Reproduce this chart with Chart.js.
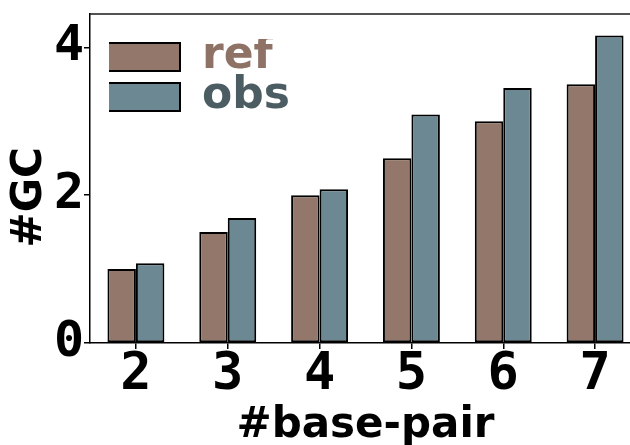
<!DOCTYPE html>
<html>
<head>
<meta charset="utf-8">
<script src="https://cdn.jsdelivr.net/npm/chart.js@4/dist/chart.umd.min.js"></script>
<style>
  html, body { margin: 0; padding: 0; background: #fff; overflow: hidden; }
  #wrap { width: 641px; height: 445px; position: relative; }
</style>
</head>
<body>
<div id="wrap"><canvas id="c"></canvas></div>
<script>
const categories = ['2', '3', '4', '5', '6', '7'];
const refValues = [1.0, 1.5, 2.0, 2.5, 3.0, 3.5];
const obsValues = [1.08, 1.69, 2.08, 3.09, 3.45, 4.16];
const seriesNames = ['ref', 'obs'];
const barColors = ['#93776a', '#6b8893'];
const legendTextColors = ['#8e7266', '#4b5c62'];
const yTicks = [0, 2, 4];

const framePlugin = {
  id: 'frame',
  afterDraw(chart) {
    const { ctx, chartArea } = chart;
    ctx.save();
    ctx.strokeStyle = '#1a1a1a';
    ctx.lineWidth = 1.5;
    ctx.beginPath();
    ctx.moveTo(chartArea.left, chartArea.top);
    ctx.lineTo(chartArea.right, chartArea.top);
    ctx.lineTo(chartArea.right, chartArea.bottom);
    ctx.stroke();
    ctx.restore();
  }
};

const legendPlacer = {
  id: 'legendPlacer',
  afterLayout(chart) {
    const lg = chart.legend;
    if (!lg) return;
    lg.left = chart.chartArea.left + 19;
    lg.top = chart.chartArea.top + 25;
  }
};

new Chart(document.getElementById('c'), {
  type: 'bar',
  data: {
    labels: categories,
    datasets: [
      { label: seriesNames[0], data: refValues, backgroundColor: barColors[0], borderColor: '#000', borderWidth: 2, borderSkipped: false },
      { label: seriesNames[1], data: obsValues, backgroundColor: barColors[1], borderColor: '#000', borderWidth: 2, borderSkipped: false }
    ]
  },
  options: {
    responsive: true,
    maintainAspectRatio: false,
    animation: false,
    devicePixelRatio: 1,
    layout: { padding: { top: 14, right: 0, left: 0, bottom: 0 } },
    datasets: { bar: { categoryPercentage: 0.62, barPercentage: 1.0 } },
    scales: {
      x: {
        afterFit(scale) { scale.height = 102; },
        grid: { offset: false, drawOnChartArea: false, drawTicks: true, tickLength: 6, color: '#000', lineWidth: 1.5 },
        border: { display: true, color: '#000', width: 1.5 },
        ticks: { color: '#000', padding: -5, font: { family: 'DejaVu Sans Mono', weight: 'bold', size: 52 } },
        title: { display: true, text: '#base-pair', color: '#000', padding: { top: 0, bottom: -6 }, font: { family: 'DejaVu Sans', weight: 'bold', size: 42 } }
      },
      y: {
        min: 0,
        max: 4.45,
        afterFit(scale) { scale.width = 90; },
        afterBuildTicks(scale) { scale.ticks = yTicks.map(v => ({ value: v })); },
        grid: { drawOnChartArea: false, drawTicks: true, tickLength: 6, color: '#000', lineWidth: 1.5 },
        border: { display: true, color: '#000', width: 1.5 },
        ticks: { color: '#000', padding: 0, font: { family: 'DejaVu Sans Mono', weight: 'bold', size: 50, lineHeight: 0.5 } },
        title: { display: true, text: '#GC  \u2009', color: '#000', padding: { top: 5, bottom: 0 }, font: { family: 'DejaVu Sans', weight: 'bold', size: 42 } }
      }
    },
    plugins: {
      tooltip: { enabled: false },
      legend: {
        position: 'chartArea',
        align: 'start',
        labels: {
          boxWidth: 75,
          boxHeight: 28,
          padding: -4,
          font: { family: 'DejaVu Sans', weight: 'bold', size: 44 },
          generateLabels(chart) {
            const items = Chart.defaults.plugins.legend.labels.generateLabels(chart);
            items.forEach((it, i) => { it.fontColor = legendTextColors[i]; it.lineWidth = 2; it.strokeStyle = '#000'; });
            return items;
          }
        }
      }
    }
  },
  plugins: [framePlugin, legendPlacer]
});
</script>
</body>
</html>
